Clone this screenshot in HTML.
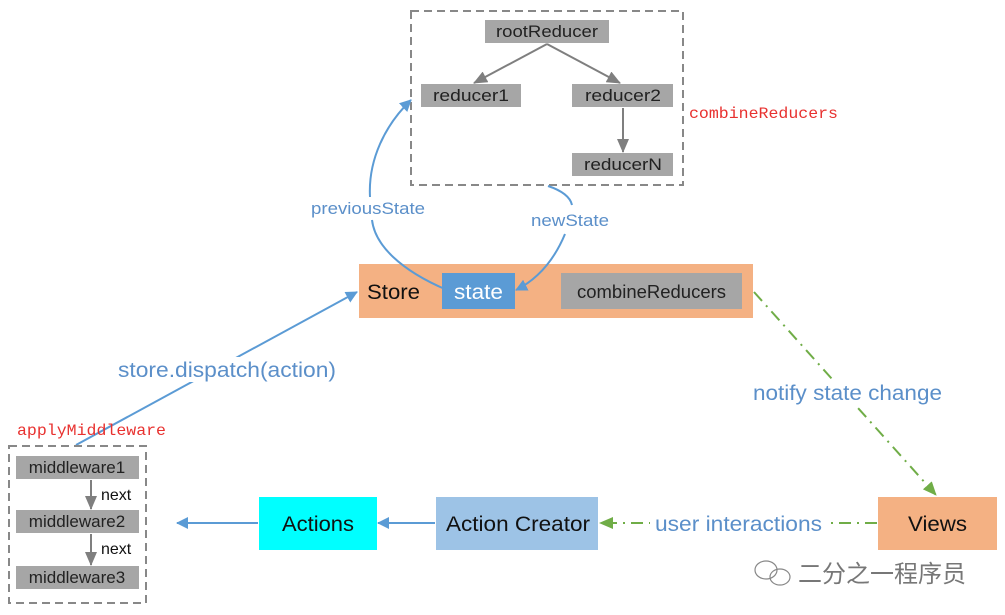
<!DOCTYPE html>
<html><head><meta charset="utf-8"><style>
body{margin:0;background:#fff;}
svg{display:block;font-family:"Liberation Sans","DejaVu Sans",sans-serif;}
</style></head><body>
<svg width="1005" height="615" viewBox="0 0 1005 615" xmlns="http://www.w3.org/2000/svg">
<defs>
<marker id="ab" markerWidth="12" markerHeight="12" refX="11" refY="6" orient="auto" markerUnits="userSpaceOnUse"><path d="M0,0 L12,6 L0,12 Z" fill="#5b9bd5"/></marker>
<marker id="ag" markerWidth="14" markerHeight="12" refX="13" refY="6" orient="auto" markerUnits="userSpaceOnUse"><path d="M0,0 L14,6 L0,12 Z" fill="#70ad47"/></marker>
<marker id="ay" markerWidth="14" markerHeight="12" refX="13" refY="6" orient="auto" markerUnits="userSpaceOnUse"><path d="M0,0 L14,6 L0,12 Z" fill="#7f7f7f"/></marker>
</defs>
<rect x="411" y="11" width="272" height="174" fill="none" stroke="#888" stroke-width="2" stroke-dasharray="8,5"/>
<rect x="485" y="20" width="124" height="23" fill="#a6a6a6"/>
<text x="496" y="37" font-size="17" textLength="102" lengthAdjust="spacingAndGlyphs" fill="#222">rootReducer</text>
<rect x="421" y="84" width="100" height="23" fill="#a6a6a6"/>
<text x="433" y="101" font-size="17" textLength="76" lengthAdjust="spacingAndGlyphs" fill="#222">reducer1</text>
<rect x="572" y="84" width="101" height="23" fill="#a6a6a6"/>
<text x="585" y="101" font-size="17" textLength="76" lengthAdjust="spacingAndGlyphs" fill="#222">reducer2</text>
<rect x="572" y="153" width="101" height="23" fill="#a6a6a6"/>
<text x="584" y="170" font-size="17" textLength="78" lengthAdjust="spacingAndGlyphs" fill="#222">reducerN</text>
<line x1="547" y1="44" x2="474" y2="83" stroke="#7f7f7f" stroke-width="2" marker-end="url(#ay)"/>
<line x1="547" y1="44" x2="620" y2="83" stroke="#7f7f7f" stroke-width="2" marker-end="url(#ay)"/>
<line x1="623" y1="108" x2="623" y2="152" stroke="#7f7f7f" stroke-width="2" marker-end="url(#ay)"/>
<text x="689" y="118" font-size="16" textLength="149" lengthAdjust="spacingAndGlyphs" fill="#e8312f" font-family="Liberation Mono,monospace">combineReducers</text>
<rect x="359" y="264" width="394" height="54" fill="#f4b183"/>
<text x="367" y="299" font-size="21" textLength="53" lengthAdjust="spacingAndGlyphs" fill="#111">Store</text>
<rect x="442" y="273" width="73" height="36" fill="#5b9bd5"/>
<text x="454" y="299" font-size="21" textLength="49" lengthAdjust="spacingAndGlyphs" fill="#fff">state</text>
<rect x="561" y="273" width="181" height="36" fill="#a6a6a6"/>
<text x="577" y="298" font-size="18" textLength="149" lengthAdjust="spacingAndGlyphs" fill="#222">combineReducers</text>
<path d="M447,290 C400,270 375,245 372,220" fill="none" stroke="#5b9bd5" stroke-width="2"/>
<path d="M370,197 C368,160 385,125 411,100" fill="none" stroke="#5b9bd5" stroke-width="2" marker-end="url(#ab)"/>
<text x="311" y="214" font-size="17" textLength="114" lengthAdjust="spacingAndGlyphs" fill="#5b8fc9">previousState</text>
<path d="M548,186 C560,190 570,196 572,205" fill="none" stroke="#5b9bd5" stroke-width="2"/>
<path d="M565,234 C555,258 540,278 516,290" fill="none" stroke="#5b9bd5" stroke-width="2" marker-end="url(#ab)"/>
<text x="531" y="226" font-size="17" textLength="78" lengthAdjust="spacingAndGlyphs" fill="#5b8fc9">newState</text>
<line x1="76" y1="445" x2="357" y2="292" stroke="#5b9bd5" stroke-width="2" marker-end="url(#ab)"/>
<rect x="115" y="357" width="225" height="25" fill="#fff"/>
<text x="118" y="377" font-size="21" textLength="218" lengthAdjust="spacingAndGlyphs" fill="#5b8fc9">store.dispatch(action)</text>
<text x="17" y="435" font-size="16" textLength="149" lengthAdjust="spacingAndGlyphs" fill="#e8312f" font-family="Liberation Mono,monospace">applyMiddleware</text>
<rect x="9" y="446" width="137" height="157" fill="none" stroke="#888" stroke-width="2" stroke-dasharray="8,5"/>
<rect x="16" y="456" width="123" height="23" fill="#a6a6a6"/>
<text x="77" y="473" font-size="17" text-anchor="middle" fill="#222">middleware1</text>
<rect x="16" y="510" width="123" height="23" fill="#a6a6a6"/>
<text x="77" y="527" font-size="17" text-anchor="middle" fill="#222">middleware2</text>
<rect x="16" y="566" width="123" height="23" fill="#a6a6a6"/>
<text x="77" y="583" font-size="17" text-anchor="middle" fill="#222">middleware3</text>
<line x1="91" y1="480" x2="91" y2="509" stroke="#7f7f7f" stroke-width="2" marker-end="url(#ay)"/>
<line x1="91" y1="534" x2="91" y2="565" stroke="#7f7f7f" stroke-width="2" marker-end="url(#ay)"/>
<text x="101" y="500" font-size="16" fill="#111">next</text>
<text x="101" y="554" font-size="16" fill="#111">next</text>
<rect x="259" y="497" width="118" height="53" fill="#00ffff"/>
<text x="282" y="531" font-size="21" textLength="72" lengthAdjust="spacingAndGlyphs" fill="#111">Actions</text>
<rect x="436" y="497" width="162" height="53" fill="#9dc3e6"/>
<text x="446" y="531" font-size="21" textLength="144" lengthAdjust="spacingAndGlyphs" fill="#111">Action Creator</text>
<rect x="878" y="497" width="119" height="53" fill="#f4b183"/>
<text x="908" y="531" font-size="21" textLength="59" lengthAdjust="spacingAndGlyphs" fill="#111">Views</text>
<line x1="258" y1="523" x2="177" y2="523" stroke="#5b9bd5" stroke-width="2" marker-end="url(#ab)"/>
<line x1="435" y1="523" x2="378" y2="523" stroke="#5b9bd5" stroke-width="2" marker-end="url(#ab)"/>
<line x1="877" y1="523" x2="600" y2="523" stroke="#70ad47" stroke-width="2" stroke-dasharray="12,6,2,6" marker-end="url(#ag)"/>
<rect x="650" y="510" width="178" height="26" fill="#fff"/>
<text x="655" y="531" font-size="21" textLength="167" lengthAdjust="spacingAndGlyphs" fill="#5b8fc9">user interactions</text>
<line x1="754" y1="292" x2="936" y2="495" stroke="#70ad47" stroke-width="2" stroke-dasharray="12,6,2,6" marker-end="url(#ag)"/>
<rect x="750" y="380" width="196" height="26" fill="#fff"/>
<text x="753" y="400" font-size="21" textLength="189" lengthAdjust="spacingAndGlyphs" fill="#5b8fc9">notify state change</text>
<g fill="none" stroke="#888" stroke-width="1.2"><ellipse cx="766" cy="570" rx="11" ry="9"/><ellipse cx="780" cy="577" rx="10" ry="8"/></g>
<text x="798" y="582" font-size="24" fill="#777" font-family="Liberation Sans,Noto Sans CJK SC,sans-serif">二分之一程序员</text>
</svg>
</body></html>
